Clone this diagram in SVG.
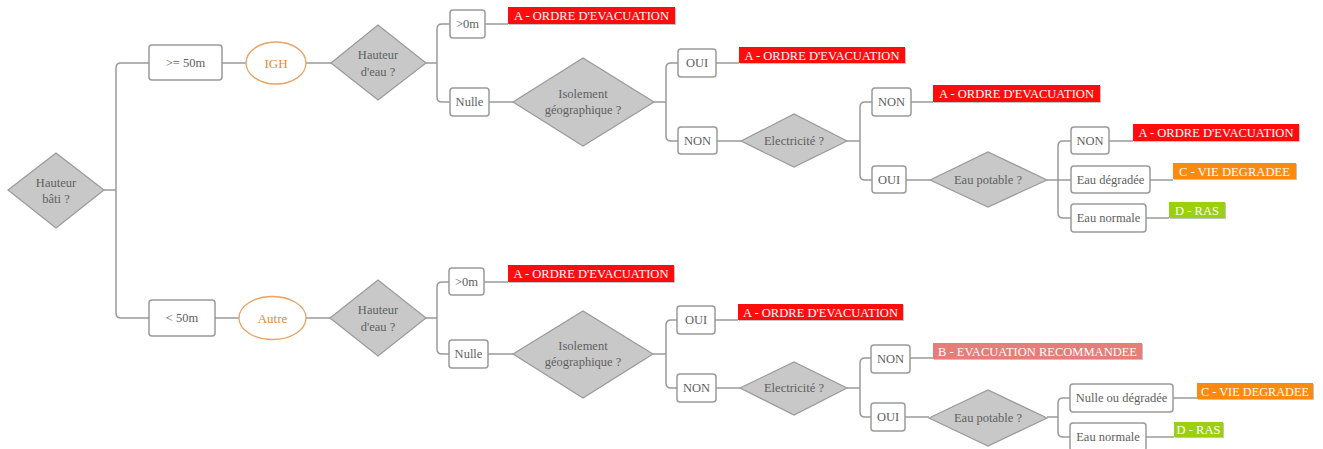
<svg xmlns="http://www.w3.org/2000/svg" width="1323" height="449" viewBox="0 0 1323 449">
<style>
.bg{fill:#ffffff}
.box{fill:#ffffff;stroke:#9a9a9a;stroke-width:1.5}
.dia{fill:#c8c8c8;stroke:#9a9a9a;stroke-width:1.2}
.ell{fill:#ffffff;stroke:#e8a367;stroke-width:1.3}
text{font-family:'Liberation Serif','DejaVu Serif',serif}
.t{font-size:12.5px;fill:#606060;text-anchor:middle}
.to{font-size:13px;fill:#e08a3c;text-anchor:middle}
.lt{font-size:12.5px;fill:#ffffff;text-anchor:middle}
.sh{fill:#c4c4c4}
.red{fill:#ff0d0d}
.pink{fill:#e57d78}
.orange{fill:#fd8a0c}
.green{fill:#9ad010}
.c{fill:none;stroke:#9a9a9a;stroke-width:1.5}
</style>
<rect class="bg" x="0" y="0" width="1323" height="449"/>
<g id="connectors">
<path class="c" d="M104,190 H116 M149,63 H121 Q116,63 116,68 V313 Q116,318 121,318 H149"/>
<path class="c" d="M222,63 H246 M306,63 H331"/>
<path class="c" d="M426,63 H437 M450,24 H442 Q437,24 437,29 V97 Q437,102 442,102 H450"/>
<path class="c" d="M485,24 H508 M489,102 H513"/>
<path class="c" d="M654,102 H666 M678,63 H671 Q666,63 666,68 V136 Q666,141 671,141 H678"/>
<path class="c" d="M716,63 H739 M717,141 H741"/>
<path class="c" d="M847,141 H860 M872,102 H865 Q860,102 860,107 V175 Q860,180 865,180 H872"/>
<path class="c" d="M911,102 H933 M906,180 H930"/>
<path class="c" d="M1047,180 H1071 M1071,141 H1063 Q1058,141 1058,146 V213 Q1058,218 1063,218 H1071"/>
<path class="c" d="M1109,141 H1133 M1150,180 H1173 M1146,218 H1169"/>
<path class="c" d="M215,318 H239 M306,318 H330"/>
<path class="c" d="M426,318 H437 M449,282 H442 Q437,282 437,287 V349 Q437,354 442,354 H449"/>
<path class="c" d="M484,282 H508 M488,354 H513"/>
<path class="c" d="M653,354 H666 M677,320 H671 Q666,320 666,325 V383 Q666,388 671,388 H677"/>
<path class="c" d="M715,320 H738 M716,388 H740"/>
<path class="c" d="M847,388 H860 M871,358 H865 Q860,358 860,363 V412 Q860,417 865,417 H871"/>
<path class="c" d="M910,358 H933 M905,417 H929"/>
<path class="c" d="M1047,417 H1058 M1070,398 H1063 Q1058,398 1058,403 V432 Q1058,437 1063,437 H1070"/>
<path class="c" d="M1173,398 H1197 M1146,437 H1174"/>
</g>
<g id="root"><polygon class="dia" points="8,190 56,153 104,190 56,228"/><text class="t" x="56" y="187">Hauteur</text><text class="t" x="56" y="203">bâti ?</text></g>
<g id="ge50"><rect class="box" x="149" y="45" width="73" height="35" rx="3"/><text class="t" x="185.5" y="67">&gt;= 50m</text></g>
<g id="igh"><ellipse class="ell" cx="276" cy="63" rx="30" ry="21"/><text class="to" x="276" y="67.5">IGH</text></g>
<g id="heau1"><polygon class="dia" points="331,63 378,25 426,63 378,100"/><text class="t" x="378" y="59">Hauteur</text><text class="t" x="378" y="76">d'eau ?</text></g>
<g id="gt0a"><rect class="box" x="450" y="10" width="35" height="28" rx="3"/><text class="t" x="467.5" y="28">&gt;0m</text></g>
<g id="la1"><rect class="sh" x="509" y="8" width="167" height="17"/><rect class="red" x="508" y="7" width="167" height="17"/><text class="lt" x="591.5" y="20" textLength="155" lengthAdjust="spacingAndGlyphs">A - ORDRE D'EVACUATION</text></g>
<g id="nullea"><rect class="box" x="450" y="88" width="39" height="28" rx="3"/><text class="t" x="469.5" y="106">Nulle</text></g>
<g id="iso1"><polygon class="dia" points="513,102 583,58 654,102 583,146"/><text class="t" x="583" y="98">Isolement</text><text class="t" x="583" y="114">géographique ?</text></g>
<g id="ouia"><rect class="box" x="678" y="49" width="38" height="28" rx="3"/><text class="t" x="697" y="67">OUI</text></g>
<g id="la2"><rect class="sh" x="740" y="48" width="166" height="16"/><rect class="red" x="739" y="47" width="166" height="16"/><text class="lt" x="822" y="59.5" textLength="155" lengthAdjust="spacingAndGlyphs">A - ORDRE D'EVACUATION</text></g>
<g id="nona"><rect class="box" x="678" y="127" width="39" height="27" rx="3"/><text class="t" x="697.5" y="145">NON</text></g>
<g id="elec1"><polygon class="dia" points="741,141 794,114 847,141 794,167"/><text class="t" x="794" y="145">Electricité ?</text></g>
<g id="nonb"><rect class="box" x="872" y="88" width="39" height="28" rx="3"/><text class="t" x="891.5" y="106">NON</text></g>
<g id="la3"><rect class="sh" x="934" y="86" width="167" height="17"/><rect class="red" x="933" y="85" width="167" height="17"/><text class="lt" x="1016.5" y="98" textLength="155" lengthAdjust="spacingAndGlyphs">A - ORDRE D'EVACUATION</text></g>
<g id="ouib"><rect class="box" x="872" y="166" width="34" height="27" rx="3"/><text class="t" x="889" y="184">OUI</text></g>
<g id="eaup1"><polygon class="dia" points="930,180 988,152 1047,180 988,207"/><text class="t" x="988" y="184">Eau potable ?</text></g>
<g id="nonc"><rect class="box" x="1071" y="127" width="38" height="27" rx="3"/><text class="t" x="1090" y="145">NON</text></g>
<g id="la4"><rect class="sh" x="1134" y="125" width="166" height="17"/><rect class="red" x="1133" y="124" width="166" height="17"/><text class="lt" x="1216" y="137" textLength="155" lengthAdjust="spacingAndGlyphs">A - ORDRE D'EVACUATION</text></g>
<g id="eaudeg"><rect class="box" x="1071" y="166" width="79" height="27" rx="3"/><text class="t" x="1110.5" y="184">Eau dégradée</text></g>
<g id="lc1"><rect class="sh" x="1174" y="164" width="123" height="16"/><rect class="orange" x="1173" y="163" width="123" height="16"/><text class="lt" x="1234.5" y="175.5" textLength="111" lengthAdjust="spacingAndGlyphs">C - VIE DEGRADEE</text></g>
<g id="eaunorm1"><rect class="box" x="1071" y="204" width="75" height="28" rx="3"/><text class="t" x="1108.5" y="222">Eau normale</text></g>
<g id="ld1"><rect class="sh" x="1170" y="203" width="56" height="16"/><rect class="green" x="1169" y="202" width="56" height="16"/><text class="lt" x="1197" y="214.5">D - RAS</text></g>
<g id="lt50"><rect class="box" x="149" y="300" width="66" height="36" rx="3"/><text class="t" x="182" y="322">&lt; 50m</text></g>
<g id="autre"><ellipse class="ell" cx="272.5" cy="318" rx="33.5" ry="21.5"/><text class="to" x="272.5" y="322.5">Autre</text></g>
<g id="heau2"><polygon class="dia" points="330,318 378,280 426,318 378,356"/><text class="t" x="378" y="314">Hauteur</text><text class="t" x="378" y="331">d'eau ?</text></g>
<g id="gt0b"><rect class="box" x="449" y="268" width="35" height="27" rx="3"/><text class="t" x="466.5" y="286">&gt;0m</text></g>
<g id="la5"><rect class="sh" x="509" y="266" width="166" height="17"/><rect class="red" x="508" y="265" width="166" height="17"/><text class="lt" x="591" y="278" textLength="155" lengthAdjust="spacingAndGlyphs">A - ORDRE D'EVACUATION</text></g>
<g id="nulleb"><rect class="box" x="449" y="340" width="39" height="28" rx="3"/><text class="t" x="468.5" y="358">Nulle</text></g>
<g id="iso2"><polygon class="dia" points="513,354 583,311 653,354 583,398"/><text class="t" x="583" y="350">Isolement</text><text class="t" x="583" y="366">géographique ?</text></g>
<g id="ouic"><rect class="box" x="677" y="306" width="38" height="28" rx="3"/><text class="t" x="696" y="324">OUI</text></g>
<g id="la6"><rect class="sh" x="739" y="305" width="165" height="16"/><rect class="red" x="738" y="304" width="165" height="16"/><text class="lt" x="820.5" y="316.5" textLength="155" lengthAdjust="spacingAndGlyphs">A - ORDRE D'EVACUATION</text></g>
<g id="nond"><rect class="box" x="677" y="374" width="39" height="28" rx="3"/><text class="t" x="696.5" y="392">NON</text></g>
<g id="elec2"><polygon class="dia" points="740,388 794,362 847,388 794,415"/><text class="t" x="794" y="392">Electricité ?</text></g>
<g id="none"><rect class="box" x="871" y="345" width="39" height="28" rx="3"/><text class="t" x="890.5" y="363">NON</text></g>
<g id="lb1"><rect class="sh" x="934" y="344" width="209" height="16"/><rect class="pink" x="933" y="343" width="209" height="16"/><text class="lt" x="1037.5" y="355.5" textLength="199" lengthAdjust="spacingAndGlyphs">B - EVACUATION RECOMMANDEE</text></g>
<g id="ouid"><rect class="box" x="871" y="403" width="34" height="28" rx="3"/><text class="t" x="888" y="421">OUI</text></g>
<g id="eaup2"><polygon class="dia" points="929,418 988,390 1047,418 988,446"/><text class="t" x="988" y="422">Eau potable ?</text></g>
<g id="nulledeg"><rect class="box" x="1070" y="384" width="103" height="28" rx="3"/><text class="t" x="1121.5" y="402">Nulle ou dégradée</text></g>
<g id="lc2"><rect class="sh" x="1198" y="384" width="116" height="16"/><rect class="orange" x="1197" y="383" width="116" height="16"/><text class="lt" x="1255" y="395.5" textLength="108" lengthAdjust="spacingAndGlyphs">C - VIE DEGRADEE</text></g>
<g id="eaunorm2"><rect class="box" x="1070" y="423" width="76" height="28" rx="3"/><text class="t" x="1108" y="441">Eau normale</text></g>
<g id="ld2"><rect class="sh" x="1175" y="423" width="49" height="15"/><rect class="green" x="1174" y="422" width="49" height="15"/><text class="lt" x="1198.5" y="434">D - RAS</text></g>
</svg>
